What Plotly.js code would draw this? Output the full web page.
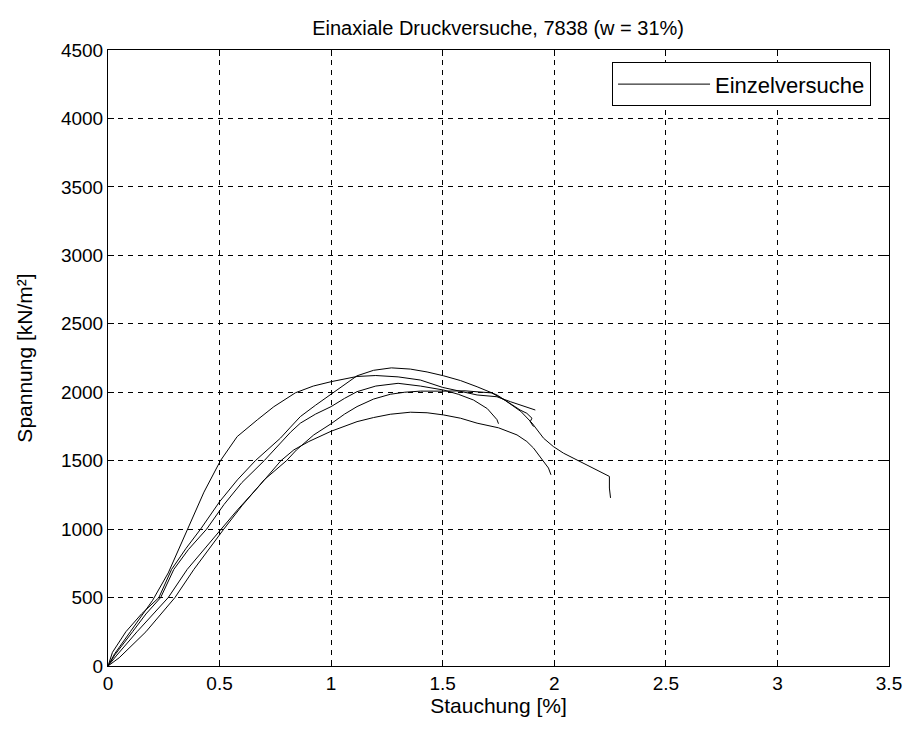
<!DOCTYPE html>
<html>
<head>
<meta charset="utf-8">
<script src="https://cdn.plot.ly/plotly-3.0.1.min.js"></script>
<style>
html,body{margin:0;padding:0;background:#fff;}
#chart{width:909px;height:729px;}
</style>
</head>
<body>
<div id="chart"></div>
<script>
// Strain [%] / stress [kN/m²] for five single tests
const testA_x = [0, 0.03, 0.1, 0.2, 0.27, 0.355, 0.43, 0.504, 0.579, 0.669, 0.743, 0.84, 0.92, 1.0, 1.116, 1.2, 1.3, 1.4, 1.5, 1.654, 1.743, 1.803, 1.86, 1.915];
const testA_y = [0, 90, 250, 480, 680, 1000, 1270, 1500, 1676, 1798, 1894, 1996, 2045, 2077, 2115, 2122, 2112, 2089, 2035, 1980, 1967, 1931, 1900, 1870];

const testB_x = [0, 0.02, 0.08, 0.15, 0.228, 0.285, 0.35, 0.415, 0.5, 0.58, 0.661, 0.713, 0.773, 0.818, 0.862, 0.93, 1.0, 1.06, 1.116, 1.19, 1.27, 1.355, 1.43, 1.504, 1.58, 1.654, 1.743, 1.8, 1.847, 1.877, 1.9, 1.892, 1.907];
const testB_y = [0, 100, 250, 380, 500, 706, 860, 1000, 1200, 1360, 1501, 1579, 1665, 1745, 1822, 1905, 1985, 2060, 2120, 2160, 2178, 2169, 2148, 2120, 2085, 2040, 1980, 1920, 1870, 1846, 1810, 1785, 1749];

const testC_x = [0, 0.03, 0.11, 0.17, 0.236, 0.295, 0.36, 0.442, 0.52, 0.6, 0.70, 0.758, 0.818, 0.862, 0.93, 1.0, 1.06, 1.116, 1.2, 1.3, 1.4, 1.504, 1.57, 1.638, 1.7, 1.743, 1.75];
const testC_y = [0, 80, 250, 380, 500, 706, 850, 1000, 1180, 1340, 1500, 1603, 1708, 1774, 1840, 1895, 1955, 2004, 2045, 2065, 2045, 2016, 1985, 1943, 1880, 1800, 1770];

const testD_x = [0, 0.05, 0.17, 0.30, 0.385, 0.45, 0.519, 0.6, 0.7, 0.80, 0.845, 0.922, 1.0, 1.06, 1.116, 1.19, 1.265, 1.33, 1.4, 1.5, 1.6, 1.72, 1.78, 1.85, 1.9, 1.952, 1.996, 2.041, 2.101, 2.191, 2.247, 2.247, 2.252];
const testD_y = [0, 60, 250, 500, 706, 850, 1000, 1170, 1360, 1500, 1579, 1688, 1770, 1840, 1895, 1950, 1985, 2000, 2008, 2008, 2010, 1995, 1940, 1860, 1775, 1664, 1603, 1555, 1507, 1434, 1385, 1300, 1228];

const testE_x = [0, 0.04, 0.13, 0.27, 0.355, 0.43, 0.504, 0.58, 0.68, 0.775, 0.833, 0.9, 1.0, 1.116, 1.19, 1.265, 1.355, 1.43, 1.504, 1.58, 1.654, 1.75, 1.833, 1.877, 1.907, 1.929, 1.952, 1.974, 1.985];
const testE_y = [0, 80, 250, 500, 706, 850, 1000, 1140, 1320, 1500, 1579, 1640, 1715, 1785, 1815, 1839, 1854, 1850, 1834, 1810, 1774, 1740, 1688, 1640, 1592, 1543, 1494, 1446, 1397];

const seriesX = [testA_x, testB_x, testC_x, testD_x, testE_x];
const seriesY = [testA_y, testB_y, testC_y, testD_y, testE_y];
const legendLabel = 'Einzelversuche';
const titleText = 'Einaxiale Druckversuche, 7838 (w = 31%)';
const xLabel = 'Stauchung [%]';
const yLabel = 'Spannung [kN/m²]';

const FONT = 'Liberation Sans, Arial, Helvetica, sans-serif';

const traces = seriesX.map((xs, i) => ({
  x: xs, y: seriesY[i], type: 'scatter', mode: 'lines',
  line: {color: '#000', width: 1},
  name: legendLabel, showlegend: i === 0, hoverinfo: 'skip'
}));

const axisCommon = {
  showline: true, linecolor: '#000', linewidth: 1, mirror: 'ticks',
  ticks: 'inside', ticklen: 6, tickcolor: '#000', tickwidth: 1,
  showgrid: true, gridcolor: '#000', gridwidth: 1, griddash: '5px,5px',
  zeroline: false, tickfont: {family: FONT, size: 19, color: '#000'}
};

const layout = {
  width: 909, height: 729,
  margin: {l: 108, r: 20, t: 50, b: 63},
  paper_bgcolor: '#fff', plot_bgcolor: '#fff',
  font: {family: FONT, size: 19, color: '#000'},
  title: {text: titleText, x: 0.548, xanchor: 'center', y: 0.962, yanchor: 'middle',
          font: {family: FONT, size: 20, color: '#000'}},
  xaxis: Object.assign({}, axisCommon, {
    range: [0, 3.5], dtick: 0.5, tick0: 0,
    title: {text: xLabel, font: {family: FONT, size: 21, color: '#000'}, standoff: 0}
  }),
  yaxis: Object.assign({}, axisCommon, {
    range: [0, 4500], dtick: 500, tick0: 0,
    title: {text: yLabel, font: {family: FONT, size: 21, color: '#000'}, standoff: 22}
  }),
  showlegend: true,
  legend: {x: 0.977, xanchor: 'right', y: 0.98, yanchor: 'top',
           bgcolor: '#fff', bordercolor: '#000', borderwidth: 1,
           font: {family: FONT, size: 22, color: '#000'}, itemwidth: 92}
};

Plotly.newPlot('chart', traces, layout, {displayModeBar: false, staticPlot: true});
</script>
</body>
</html>
